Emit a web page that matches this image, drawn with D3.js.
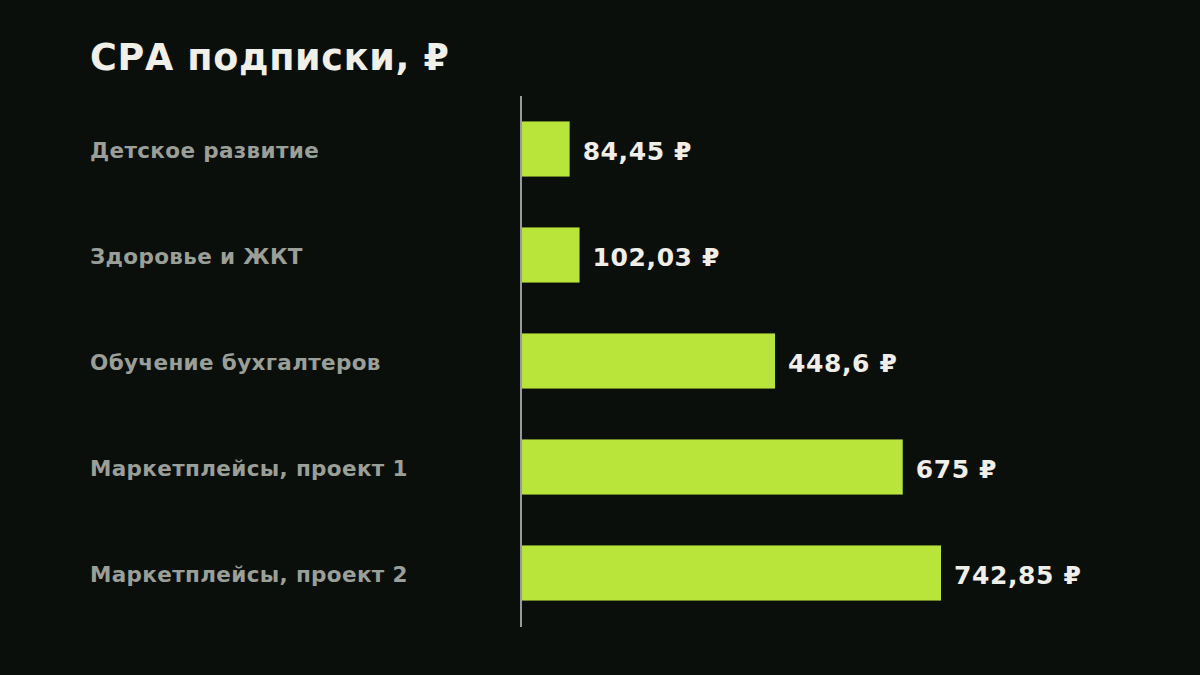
<html>
<head>
  <meta charset="utf-8">
  <style>
    body { margin: 0; background: #0b0f0c; }
    text { font-family: "DejaVu Sans", sans-serif; font-weight: bold; }
  </style>
  <script type="text/javascript" src="https://d3js.org/d3.v7.min.js"></script>
</head>
<body>

<div id="chart"></div>

<script>
  var categories = ["Детское развитие", "Здоровье и ЖКТ", "Обучение бухгалтеров",
                    "Маркетплейсы, проект 1", "Маркетплейсы, проект 2"];
  var values = [84.45, 102.03, 448.6, 675, 742.85];
  var valueLabels = ["84,45 ₽", "102,03 ₽", "448,6 ₽", "675 ₽", "742,85 ₽"];
  var title = "СРА подписки, ₽";

  var width = 1200, height = 675;

  var svg = d3.select("#chart").append("svg")
      .attr("width", width)
      .attr("height", height);

  svg.append("rect")
      .attr("width", width)
      .attr("height", height)
      .attr("fill", "#0b0f0c");

  var x = d3.scaleLinear()
      .domain([0, d3.max(values)])
      .range([522, 941]);

  var y = d3.scaleBand()
      .domain(categories)
      .range([96, 626])
      .paddingInner(0.48)
      .paddingOuter(0.24);

  svg.append("text")
      .attr("x", 90)
      .attr("y", 70)
      .attr("fill", "#f0efe8")
      .style("font-size", "36.5px")
      .style("letter-spacing", "0.7px")
      .text(title);

  // category labels
  svg.selectAll(".cat")
      .data(categories)
      .enter().append("text")
      .attr("class", "cat")
      .attr("x", 90)
      .attr("y", function(d) { return y(d) + y.bandwidth() / 2; })
      .attr("dy", "0.4em")
      .attr("fill", "#9a9f98")
      .style("font-size", "21.5px")
      .style("letter-spacing", "0.35px")
      .text(function(d) { return d; });

  svg.selectAll(".bar")
      .data(values)
      .enter().append("rect")
      .attr("class", "bar")
      .attr("x", x(0))
      .attr("y", function(d, i) { return y(categories[i]); })
      .attr("width", function(d) { return x(d) - x(0); })
      .attr("height", y.bandwidth())
      .attr("fill", "#b9e43a");

  svg.selectAll(".val")
      .data(values)
      .enter().append("text")
      .attr("class", "val")
      .attr("x", function(d) { return x(d) + 13; })
      .attr("y", function(d, i) { return y(categories[i]) + y.bandwidth() / 2; })
      .attr("dy", "0.44em")
      .attr("fill", "#f0eee8")
      .style("font-size", "25px")
      .style("letter-spacing", "0.6px")
      .text(function(d, i) { return valueLabels[i]; });

  // baseline axis
  svg.append("line")
      .attr("x1", 521)
      .attr("x2", 521)
      .attr("y1", 96)
      .attr("y2", 627)
      .attr("stroke", "#9a9a9a")
      .attr("stroke-width", 2);
</script>

</body>
</html>
